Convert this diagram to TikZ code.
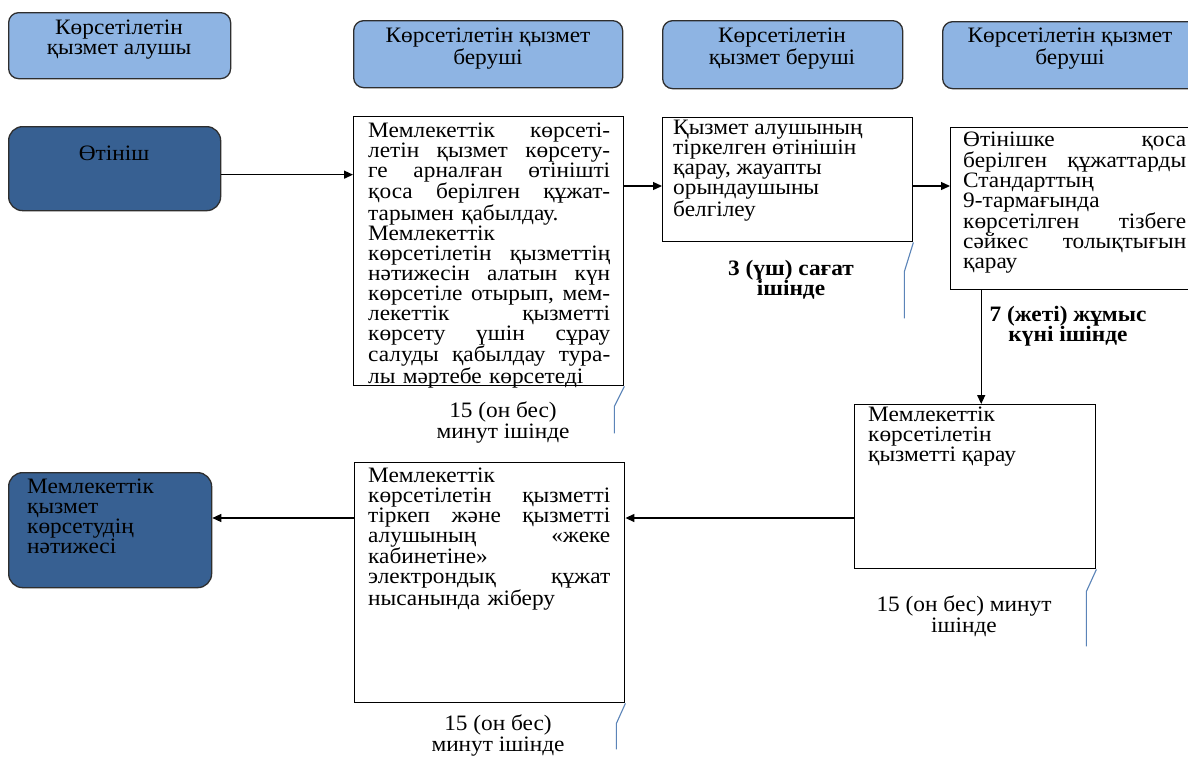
\documentclass[tikz,border=0pt]{standalone}
\usepackage{fontspec}
\setmainfont{Liberation Serif}[FakeStretch=1.06]
\usetikzlibrary{arrows.meta}

\definecolor{headblue}{HTML}{8EB4E3}
\definecolor{deepblue}{HTML}{376092}
\definecolor{edgegray}{HTML}{2E2E2E}
\definecolor{calloutblue}{HTML}{5B84B8}

% every text block starts with an invisible 18pt strut, so its top edge
% lies exactly 18pt above the baseline of its first line
\newcommand\firstlinestrut{\rule{0pt}{18pt}}

\tikzset{
  frame/.style={draw=black, line width=1.4pt, fill=white, inner sep=0pt, anchor=north west},
  headbox/.style={draw=edgegray, line width=1.3pt, fill=headblue, rounded corners=10pt, inner sep=0pt, anchor=north west},
  endbox/.style={draw=edgegray, line width=1.3pt, fill=deepblue, rounded corners=14pt, inner sep=0pt, anchor=north west},
  txt/.style={inner sep=0pt, anchor=north west, align=left, font=\fontsize{22}{20}\selectfont,
    execute at begin node=\firstlinestrut},
  ctxt/.style={inner sep=0pt, anchor=north, align=center, font=\fontsize{22}{20.5}\selectfont,
    execute at begin node=\firstlinestrut},
  htxt/.style={inner sep=0pt, anchor=north, align=center, font=\fontsize{22}{20}\selectfont,
    execute at begin node=\firstlinestrut},
  arr/.style={draw=black, line width=1.3pt, -{Triangle[length=9pt,width=8pt]}},
  callout/.style={draw=calloutblue, line width=1.1pt},
}

\begin{document}
\begin{tikzpicture}[x=1pt, y=-1pt]
\useasboundingbox (0,0) rectangle (1188,756);
\clip (0,0) rectangle (1188,756);
\fill[white] (0,0) rectangle (1188,756);

% column headers
\node[headbox, minimum width=222pt, minimum height=66pt] (h1) at (8,12) {};
\node[htxt] (h1t) at (119,20) {Көрсетілетін\\қызмет алушы};
\node[headbox, minimum width=269pt, minimum height=67pt] (h2) at (353,20) {};
\node[htxt] (h2t) at (488,28) {Көрсетілетін қызмет\\беруші};
\node[headbox, minimum width=240pt, minimum height=68pt] (h3) at (662,20) {};
\node[htxt] (h3t) at (782,28) {Көрсетілетін\\қызмет беруші};
\node[headbox, minimum width=257pt, minimum height=67pt] (h4) at (942,21) {};
\node[htxt] (h4t) at (1070,28) {Көрсетілетін қызмет\\беруші};

% start and end
\node[endbox, minimum width=212pt, minimum height=84pt] (otinish) at (8,126) {};
\node[htxt] (otinisht) at (114,142) {Өтініш};
\node[endbox, minimum width=203pt, minimum height=115pt] (result) at (8,472) {};
\node[txt] (resultt) at (27,479) {Мемлекеттік\\қызмет\\көрсетудің\\нәтижесі};

% process steps
\node[frame, minimum width=270pt, minimum height=269pt] (box1) at (353,116) {};
\node[txt, text width=242pt] (box1t) at (368,119) {%
Мемлекеттік\hfill көрсеті-\\
летін\hfill қызмет\hfill көрсету-\\
ге\hfill арналған\hfill өтінішті\\
қоса\hfill берілген\hfill құжат-\\
тарымен қабылдау.\\
Мемлекеттік\\
көрсетілетін\hfill қызметтің\\
нәтижесін\hfill алатын\hfill күн\\
көрсетіле\hfill отырып,\hfill мем-\\
лекеттік\hfill қызметті\\
көрсету\hfill үшін\hfill сұрау\\
салуды\hfill қабылдау\hfill тура-\\
лы мәртебе көрсетеді};

\node[frame, minimum width=250pt, minimum height=124pt] (box2) at (662,117) {};
\node[txt] (box2t) at (673,120) {Қызмет алушының\\тіркелген өтінішін\\қарау, жауапты\\орындаушыны\\белгілеу};

\node[frame, minimum width=250pt, minimum height=162pt] (box3) at (950,127) {};
\node[txt, text width=223pt] (box3t) at (963,128) {%
Өтінішке\hfill қоса\\
берілген\hfill құжаттарды\\
Стандарттың\\
9-тармағында\\
көрсетілген\hfill тізбеге\\
сәйкес\hfill толықтығын\\
қарау};

\node[frame, minimum width=241pt, minimum height=164pt] (box4) at (854,404) {};
\node[txt] (box4t) at (868,407) {Мемлекеттік\\көрсетілетін\\қызметті қарау};

\node[frame, minimum width=270pt, minimum height=240pt] (box5) at (354,462) {};
\node[txt, text width=242pt] (box5t) at (368,464) {%
Мемлекеттік\\
көрсетілетін\hfill қызметті\\
тіркеп\hfill және\hfill қызметті\\
алушының\hfill «жеке\\
кабинетіне»\\
электрондық\hfill құжат\\
нысанында жіберу};

% time limits
\node[ctxt] (l1) at (503,402) {15 (он бес)\\минут ішінде};
\node[ctxt, font=\bfseries\fontsize{22}{20.5}\selectfont] (l2) at (791,260) {3 (үш) сағат\\ішінде};
\node[ctxt, font=\bfseries\fontsize{22}{20.5}\selectfont] (l3) at (1068,306) {7 (жеті) жұмыс\\күні ішінде};
\node[ctxt] (l4) at (964,596) {15 (он бес) минут\\ішінде};
\node[ctxt] (l5) at (498,715) {15 (он бес)\\минут ішінде};

% flow arrows
\coordinate (a1s) at ([yshift=-6pt]otinish.east);
\draw[arr] (a1s) -- (a1s -| box1.west);
\coordinate (a2s) at ([yshift=-70pt]box1.north east);
\draw[arr] (a2s) -- (a2s -| box2.west);
\draw[arr] (a2s -| box2.east) -- (a2s -| box3.west);
\coordinate (a4e) at ([xshift=6pt]box4.north);
\draw[arr] (a4e |- box3.south) -- (a4e);
\coordinate (a5s) at ([yshift=-114pt]box4.north west);
\draw[arr] (a5s) -- (a5s -| box5.east);
\draw[arr] (a5s -| box5.west) -- (a5s -| result.east);

% callout strokes beside the time limits
\draw[callout] (box1.south east) -- ++(-10,20) -- ++(0,27);
\draw[callout] (box2.south east) -- ++(-9,29) -- ++(0,47);
\draw[callout] (box4.south east) -- ++(-10,22) -- ++(0,55);
\draw[callout] (box5.south east) -- ++(-9,20) -- ++(0,26);
\end{tikzpicture}
\end{document}
